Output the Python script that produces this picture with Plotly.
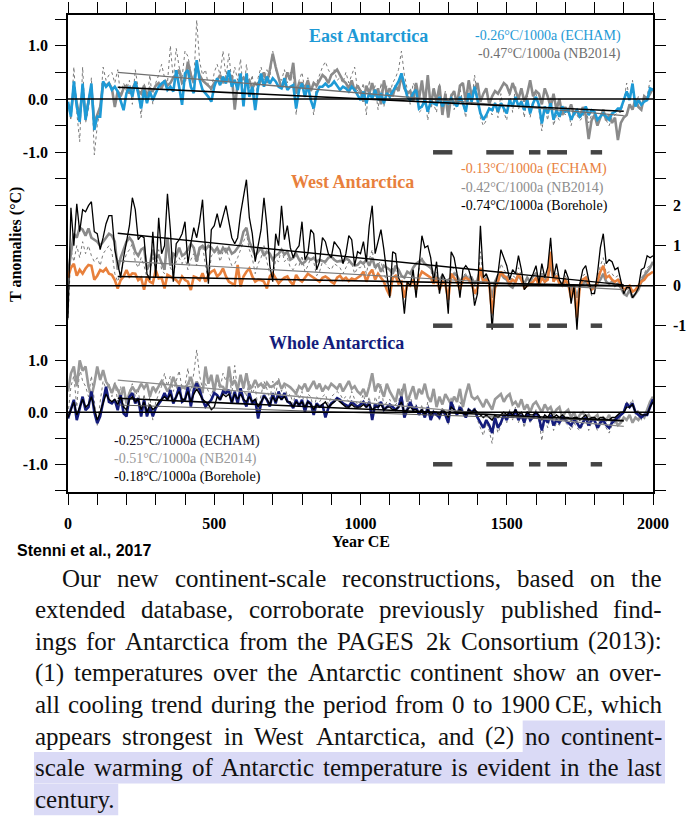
import plotly.graph_objects as go

# ---------------- data (10-year steps) ----------------
years = list(range(0, 2001, 10))

east_echam = [
    -0.05, -0.33, 0.33, -0.14, -0.43, 0.29, -0.39, -0.08, 0.29, -0.58,
    -0.33, -0.33, 0.33, 0.23, 0.29, 0.17, 0.23, 0.14, -0.05, -0.21,
    0.11, 0.23, 0.04, 0.33, 0.11, -0.18, 0.17, -0.08, 0.14, -0.02,
    0.11, 0.23, 0.29, 0.33, 0.17, 0.23, 0.14, 0.54, 0.23, -0.11,
    0.48, 0.54, 0.23, 0.11, 0.73, 0.36, 0.17, 0.11, 0.04, -0.05,
    0.23, 0.39, 0.26, 0.42, 0.29, 0.54, 0.23, 0.36, 0.17, 0.48,
    -0.14, 0.48, 0.04, 0.23, -0.21, 0.23, 0.48, 0.23, 0.42, 0.29,
    0.39, 0.33, 0.23, 0.20, 0.39, 0.17, 0.23, 0.26, -0.18, 0.17,
    0.29, 0.04, 0.26, -0.02, -0.18, 0.11, 0.23, 0.23, 0.29, 0.23,
    0.26, 0.33, 0.26, 0.17, 0.23, 0.20, 0.14, 0.23, 0.17, 0.07,
    -0.02, 0.14, -0.08, 0.11, 0.01, 0.17, -0.02, 0.11, -0.08, 0.11,
    0.04, 0.14, 0.23, 0.33, 0.48, 0.23, 0.04, -0.02, 0.11, 0.17,
    -0.18, -0.14, -0.02, -0.24, -0.05, -0.08, -0.11, 0.04, -0.14, -0.02,
    -0.08, 0.01, -0.08, -0.14, 0.04, -0.08, -0.24, 0.11, -0.05, 0.23,
    -0.02, -0.27, -0.39, -0.30, -0.18, -0.21, -0.08, -0.24, -0.08, -0.18,
    -0.27, -0.02, -0.14, 0.04, -0.14, -0.05, -0.21, -0.02, -0.27, -0.08,
    0.04, -0.11, -0.46, -0.14, -0.27, -0.08, -0.39, -0.21, -0.33, -0.14,
    -0.24, -0.21, -0.39, -0.27, -0.21, -0.33, -0.27, -0.14, -0.30, -0.21,
    -0.24, -0.39, -0.33, -0.27, -0.33, -0.39, -0.27, -0.24, -0.18, -0.18,
    -0.02, 0.14, -0.02, 0.29, -0.14, -0.02, -0.11, -0.05, -0.02, 0.20,
    0.17,
]

east_nb2014 = [
    -0.10, -0.25, 0.20, -0.10, -0.35, 0.20, -0.30, -0.05, 0.20, -0.45,
    -0.30, -0.15, 0.30, 0.25, 0.30, 0.20, -0.15, 0.15, 0.05, 0.20,
    0.25, 0.10, 0.20, 0.30, 0.15, 0.10, 0.25, 0.05, 0.20, 0.15,
    0.25, 0.30, 0.20, 0.35, 0.25, 0.30, 0.40, 0.45, 0.55, 0.30,
    0.35, 0.70, 0.45, 0.30, 0.60, 0.45, 0.35, 0.30, 0.25, 0.20,
    0.30, 0.35, 0.45, 0.30, 0.40, 0.35, 0.45, -0.20, 0.30, 0.35,
    0.40, 0.30, 0.35, 0.20, 0.30, 0.25, 0.35, 0.50, 0.30, 0.55,
    0.85, 0.60, 0.40, 0.20, 0.30, 0.50, 0.35, 0.68, 0.10, 0.30,
    0.30, 0.20, 0.35, 0.15, 0.30, 0.25, 0.35, 0.45, 0.40, 0.30,
    0.45, 0.50, 0.55, 0.45, 0.35, 0.30, 0.20, 0.35, 0.15, 0.25,
    0.15, -0.05, 0.25, 0.10, 0.30, 0.05, 0.20, -0.10, 0.35, 0.10,
    0.20, 0.05, 0.25, 0.15, 0.45, 0.20, 0.10, 0.15, -0.05, 0.30,
    0.00, 0.35, -0.10, 0.45, -0.15, 0.20, -0.05, 0.25, -0.30, 0.10,
    -0.35, 0.05, 0.15, -0.10, 0.25, 0.30, -0.05, 0.35, 0.05, 0.20,
    0.30, -0.05, 0.10, 0.20, -0.10, 0.05, 0.15, 0.10, 0.20, 0.30,
    0.25, 0.10, 0.30, 0.15, 0.00, 0.20, -0.05, 0.10, 0.35, 0.05,
    0.15, 0.10, -0.10, 0.20, 0.05, -0.15, 0.10, -0.20, 0.00, -0.30,
    -0.15, -0.25, -0.10, -0.30, -0.20, -0.35, -0.15, -0.30, -0.75, -0.40,
    -0.30, -0.50, -0.35, -0.20, -0.40, -0.30, -0.45, -0.35, -0.77, -0.45,
    -0.35, -0.30, -0.10, -0.20, 0.00, -0.15, -0.20, 0.05, 0.00, 0.10,
    0.20,
]

east_composite = [
    -0.10, -0.40, 0.60, -0.25, -0.80, 0.60, -0.45, -0.20, 0.40, -1.05,
    -0.50, -0.20, 0.60, 0.35, 0.45, 0.50, 0.30, 0.55, 0.05, 0.30,
    0.15, 0.35, -0.10, 0.55, 0.20, -0.35, 0.30, 0.00, 0.45, -0.10,
    0.30, 0.45, 0.65, 0.40, 0.30, 1.00, 0.35, 0.95, 0.60, 0.40,
    0.90, 0.80, 0.50, 0.30, 1.48, 0.70, 0.45, 0.55, 0.25, 0.15,
    0.50, 0.65, 0.45, 0.90, 0.40, 0.85, 0.30, 0.60, 0.35, 0.75,
    0.05, 0.65, 0.20, 0.45, -0.10, 0.40, 0.60, 0.35, 0.55, 0.40,
    0.90, 0.55, 0.40, 0.35, 0.55, 0.30, 0.50, 0.45, -0.30, 0.35,
    0.50, 0.15, 0.40, 0.05, -0.30, 0.30, 0.45, 0.60, 0.70, 0.55,
    0.45, 0.55, 0.35, 0.40, 0.30, 0.50, 0.30, 0.45, 0.60, 0.15,
    0.10, 0.30, -0.30, 0.35, 0.05, 0.25, -0.20, 0.30, -0.15, 0.25,
    0.10, 0.30, 0.40, 0.55, 0.90, 0.45, 0.15, -0.10, 0.30, 0.20,
    -0.25, -0.20, 0.05, -0.40, 0.00, -0.10, -0.25, 0.30, -0.20, 0.15,
    -0.15, 0.10, -0.20, -0.05, 0.20, -0.10, -0.35, 0.35, -0.10, 0.45,
    0.05, -0.35, -0.50, -0.40, -0.15, -0.30, -0.05, -0.35, 0.10, -0.25,
    -0.40, 0.15, -0.25, 0.25, -0.20, 0.00, -0.35, 0.10, -0.35, 0.00,
    0.10, -0.20, -0.60, -0.15, -0.40, 0.05, -0.50, -0.30, -0.40, -0.20,
    -0.30, -0.20, -0.50, -0.25, -0.30, -0.40, -0.35, -0.15, -0.45, -0.30,
    -0.30, -0.50, -0.35, -0.30, -0.40, -0.50, -0.35, -0.30, -0.25, -0.25,
    -0.05, 0.30, 0.00, 0.35, -0.15, 0.05, -0.10, 0.00, 0.05, 0.35,
    0.30,
]

west_borehole = [
    -0.80, 1.95, 1.00, 2.05, 1.35, 1.90, 1.85, 2.00, 2.10, 1.35,
    1.30, 0.90, 1.20, 1.55, 1.75, 1.75, 0.90, 0.50, 0.20, 0.70,
    1.10, 1.50, 2.20, 1.90, 1.15, 1.25, 1.20, 0.30, 0.15, 1.35,
    0.20, 1.70, 0.80, 1.00, 2.30, 1.40, 0.10, 1.05, 1.15, 1.30,
    1.60, 0.55, 1.05, 1.45, 1.20, 1.60, 2.15, 0.90, 0.05, 1.40,
    1.50, 1.80, 1.45, 1.75, 2.00, 1.60, 1.20, 1.05, 1.20, 1.80,
    2.20, 2.65, 1.70, 1.30, 0.60, 1.00, 1.40, 2.20, 1.50, 0.50,
    0.10, 1.30, 1.00, 2.00, 1.15, 1.50, 0.95, 0.70, 0.90, 1.00,
    1.60, 0.65, 0.80, 1.40, 1.30, 0.40, 0.60, 1.20, 1.10, 0.80,
    0.70, 1.10, 1.00, 0.90, 0.55, 0.80, 1.25, 1.15, 0.50, 0.85,
    0.80, 1.10, 0.60, 1.50, 2.00, 0.80, 1.10, 1.40, 0.90, 0.30,
    -0.30, 0.85, 0.80, 0.20, 0.05, -0.70, 0.10, 0.00, 0.40, -0.30,
    0.50, 1.25, 0.95, 1.00, 0.70, 0.10, 0.60, -0.20, 0.30, 0.15,
    -0.70, 0.85, 0.70, 0.30, -0.30, 0.40, 0.50, 0.40, 0.15, -0.50,
    -0.20, 1.50, 0.20, 0.30, 0.10, -1.10, 0.00, 0.30, 0.90, 0.70,
    0.50, 0.15, 0.40, 0.30, 0.75, 0.40, -0.10, 0.00, 0.15, 0.30,
    0.50, 0.05, 0.55, 0.20, 0.45, 1.20, 0.20, 0.55, 0.15, 0.00,
    0.40, 0.20, -0.45, 0.00, -1.10, 0.05, 0.40, 0.50, 0.15, -0.20,
    -0.20, 0.30, 0.95, 1.30, 0.55, 0.65, 0.60, 0.40, 0.45, 0.15,
    -0.20, -0.05, -0.05, -0.30, -0.20, -0.05, 0.40, 0.45, 0.75, 0.70,
    0.75,
]

west_nb2014 = [
    0.30, 0.80, 1.30, 1.20, 1.45, 1.40, 1.25, 1.43, 1.20, 1.15,
    1.10, 1.00, 1.10, 1.20, 1.30, 1.25, 1.10, 0.40, 0.70, 0.90,
    1.10, 1.20, 1.10, 0.85, 0.75, 0.90, 0.95, 0.40, 0.55, 0.90,
    0.70, 0.75, 0.55, 0.40, 1.20, 0.50, 0.80, 0.75, 0.95, 0.75,
    0.80, 0.90, 1.05, 0.95, 0.60, 0.95, 1.00, 0.90, 1.00, 0.95,
    0.85, 0.95, 0.80, 0.95, 0.85, 0.95, 0.80, 0.85, 0.95, 1.05,
    1.35, 1.45, 1.10, 0.90, 0.75, 0.85, 0.95, 0.75, 0.85, 0.80,
    0.65, 0.75, 0.80, 0.90, 0.78, 0.85, 0.65, 0.70, 0.80, 0.65,
    0.55, 0.60, 0.70, 0.65, 0.70, 0.60, 0.65, 0.62, 0.60, 0.70,
    0.73, 0.65, 0.60, 0.62, 0.60, 0.68, 0.64, 0.55, 0.50, 0.52,
    0.60, 0.55, 0.65, 0.50, 0.70, 0.45, 0.55, 0.35, 0.50, 0.45,
    0.40, 0.30, 0.50, 0.40, 0.25, 0.20, 0.35, 0.30, 0.45, 0.55,
    0.60, 0.65, 0.55, 0.50, 0.45, 0.30, 0.20, 0.15, 0.25, 0.10,
    0.15, 0.20, 0.30, 0.25, 0.10, 0.20, 0.25, 0.15, 0.20, 0.05,
    0.15, 0.40, 0.10, 0.20, 0.05, -0.30, 0.10, 0.25, 0.30, 0.20,
    0.15, 0.00, -0.05, 0.10, 0.25, 0.15, 0.05, 0.20, 0.10, 0.25,
    0.30, 0.15, 0.25, 0.10, 0.20, 0.55, 0.15, 0.20, 0.10, 0.05,
    0.10, 0.05, -0.10, 0.00, -0.30, 0.00, 0.05, 0.10, 0.00, -0.05,
    0.00, 0.05, 0.15, 0.30, 0.10, 0.05, 0.10, 0.00, 0.05, -0.05,
    -0.20, -0.25, -0.10, -0.30, -0.20, -0.10, 0.10, 0.25, 0.35, 0.45,
    0.60,
]

west_echam = [
    0.20, 0.45, 0.55, 0.25, 0.40, 0.30, 0.43, 0.52, 0.50, 0.15,
    0.25, 0.39, 0.35, 0.43, 0.30, 0.27, 0.14, -0.07, 0.14, 0.23,
    0.39, 0.23, 0.31, 0.30, 0.14, 0.20, -0.10, 0.23, 0.10, 0.06,
    0.39, 0.18, 0.20, -0.07, 0.27, 0.23, 0.20, 0.14, 0.06, 0.23,
    0.14, 0.10, -0.11, 0.23, 0.20, 0.14, 0.31, 0.10, 0.27, 0.35,
    0.39, 0.23, 0.30, 0.43, 0.23, 0.10, 0.06, 0.02, 0.52, -0.02,
    0.23, 0.35, 0.43, 0.23, 0.10, 0.15, 0.14, 0.10, -0.07, 0.23,
    0.31, 0.20, 0.06, 0.14, 0.20, 0.23, 0.10, 0.02, 0.27, 0.15,
    0.10, 0.20, 0.30, 0.25, 0.20, 0.14, 0.10, 0.20, 0.23, 0.18,
    0.10, 0.05, 0.20, 0.25, 0.15, 0.20, 0.12, 0.18, 0.15, 0.20,
    0.25, 0.35, 0.10, 0.30, 0.40, 0.15, 0.30, 0.20, 0.10, -0.10,
    -0.25, 0.20, 0.25, 0.05, 0.10, -0.30, 0.05, 0.00, 0.15, -0.10,
    0.20, 0.35, 0.30, 0.25, 0.20, 0.05, 0.20, -0.10, 0.10, 0.05,
    -0.35, 0.30, 0.20, 0.10, -0.10, 0.15, 0.20, 0.15, 0.05, -0.20,
    -0.05, 0.45, 0.10, 0.15, 0.05, -0.70, -0.05, 0.10, 0.35, 0.25,
    0.20, 0.05, 0.15, 0.10, 0.30, 0.15, -0.05, 0.00, 0.05, 0.10,
    0.20, 0.00, 0.20, 0.10, 0.15, 0.85, 0.10, 0.25, 0.05, 0.00,
    0.15, 0.05, -0.30, 0.00, -0.80, 0.00, 0.15, 0.20, 0.05, -0.10,
    -0.05, 0.10, 0.35, 0.50, 0.20, 0.25, 0.15, 0.10, 0.15, 0.05,
    -0.10, -0.05, 0.00, -0.15, -0.10, 0.00, 0.10, 0.15, 0.25, 0.30,
    0.35,
]

west_composite = [
    -0.85, 0.90, 0.60, 1.00, 0.70, 1.10, 0.80, 1.00, 0.75, 0.60,
    0.70, 0.50, 0.80, 0.90, 1.00, 0.85, 0.30, 0.10, 0.35, 0.60,
    0.80, 0.90, 1.05, 0.60, 0.45, 0.70, 0.50, 0.20, 0.30, 0.75,
    0.35, 0.90, 0.40, 0.30, 1.10, 0.45, 0.30, 0.60, 0.70, 0.55,
    0.70, 0.40, 0.65, 0.80, 0.50, 0.85, 1.00, 0.50, 0.10, 0.75,
    0.80, 0.90, 0.60, 0.85, 0.95, 0.70, 0.50, 0.55, 0.70, 0.90,
    1.10, 1.30, 0.90, 0.70, 0.30, 0.55, 0.70, 1.00, 0.60, 0.30,
    0.20, 0.65, 0.60, 0.95, 0.60, 0.70, 0.45, 0.40, 0.55, 0.50,
    0.75, 0.35, 0.50, 0.70, 0.60, 0.25, 0.35, 0.60, 0.55, 0.45,
    0.40, 0.55, 0.50, 0.45, 0.30, 0.45, 0.60, 0.55, 0.30, 0.45,
    0.45, 0.60, 0.30, 0.65, 0.90, 0.40, 0.55, 0.60, 0.35, 0.10,
    -0.20, 0.45, 0.40, 0.10, 0.05, -0.50, 0.10, 0.00, 0.30, -0.15,
    0.40, 0.70, 0.55, 0.50, 0.40, 0.10, 0.35, -0.15, 0.20, 0.10,
    -0.50, 0.50, 0.40, 0.20, -0.20, 0.25, 0.30, 0.25, 0.10, -0.35,
    -0.10, 0.85, 0.15, 0.20, 0.05, -0.90, 0.00, 0.20, 0.55, 0.40,
    0.30, 0.05, 0.25, 0.20, 0.45, 0.25, -0.10, 0.00, 0.10, 0.20,
    0.35, 0.05, 0.35, 0.15, 0.30, 0.75, 0.15, 0.35, 0.10, 0.00,
    0.25, 0.10, -0.35, 0.00, -0.95, 0.00, 0.25, 0.30, 0.10, -0.25,
    -0.15, 0.15, 0.50, 0.70, 0.30, 0.35, 0.30, 0.20, 0.25, 0.05,
    -0.25, -0.10, -0.05, -0.30, -0.20, -0.05, 0.20, 0.30, 0.45, 0.50,
    0.55,
]

whole_echam = [
    -0.12, 0.05, 0.24, -0.15, 0.10, 0.30, 0.04, 0.10, 0.40, 0.00,
    -0.21, -0.08, 0.20, 0.49, 0.20, 0.17, 0.24, 0.04, 0.33, -0.02,
    -0.08, 0.30, 0.37, 0.17, 0.27, -0.08, 0.24, -0.08, 0.11, -0.08,
    0.08, 0.17, 0.24, 0.37, 0.24, 0.43, 0.17, 0.30, 0.49, 0.20,
    0.24, 0.49, 0.11, 0.43, 0.56, 0.43, 0.24, 0.11, 0.17, 0.24,
    0.37, 0.33, 0.24, 0.40, 0.37, 0.43, 0.17, 0.40, 0.17, 0.46,
    0.24, 0.11, 0.37, 0.17, 0.24, -0.12, 0.17, 0.33, 0.24, 0.11,
    0.37, 0.17, 0.40, 0.24, 0.37, 0.21, 0.17, 0.08, 0.24, 0.11,
    0.24, 0.01, 0.21, 0.17, -0.05, 0.17, 0.11, 0.14, -0.10, 0.08,
    0.17, 0.21, 0.27, 0.24, 0.17, 0.14, 0.11, 0.20, 0.15, 0.10,
    0.15, 0.20, 0.10, 0.20, -0.15, 0.15, 0.10, 0.20, 0.05, 0.10,
    0.15, 0.10, 0.05, 0.10, 0.30, -0.10, 0.05, 0.20, 0.05, 0.10,
    -0.05, 0.05, -0.10, 0.10, -0.15, 0.00, -0.05, -0.10, 0.05, -0.05,
    -0.20, 0.20, 0.05, -0.05, 0.10, 0.00, -0.10, 0.05, 0.00, 0.05,
    -0.10, -0.20, -0.30, -0.15, -0.25, -0.40, -0.10, -0.30, -0.20, -0.05,
    -0.15, 0.00, -0.10, 0.05, -0.15, -0.05, -0.20, 0.00, -0.15, -0.10,
    0.00, -0.10, -0.35, -0.10, -0.20, -0.05, -0.25, -0.15, -0.20, -0.10,
    -0.15, -0.20, -0.25, -0.15, -0.20, -0.30, -0.20, -0.10, -0.25, -0.15,
    -0.15, -0.30, -0.20, -0.15, -0.25, -0.30, -0.20, -0.15, -0.10, -0.05,
    0.00, 0.17, 0.10, 0.17, 0.00, -0.05, -0.10, -0.05, -0.05, 0.10,
    0.25,
]

whole_borehole = [
    -0.10, 0.05, 0.20, -0.05, 0.10, 0.25, 0.10, 0.15, 0.30, 0.05,
    -0.15, 0.00, 0.20, 0.35, 0.25, 0.20, 0.25, 0.15, 0.30, 0.10,
    0.05, 0.25, 0.30, 0.20, 0.25, 0.05, 0.20, 0.00, 0.15, 0.05,
    0.10, 0.20, 0.25, 0.30, 0.25, 0.35, 0.20, 0.30, 0.40, 0.25,
    0.25, 0.40, 0.20, 0.35, 0.45, 0.35, 0.25, 0.20, 0.15, 0.05,
    0.10, 0.30, 0.25, 0.35, 0.30, 0.35, 0.20, 0.35, 0.25, 0.35,
    0.25, 0.20, 0.30, 0.20, 0.25, 0.10, 0.20, 0.30, 0.25, 0.15,
    0.30, 0.20, 0.30, 0.25, 0.30, 0.20, 0.20, 0.10, 0.20, 0.15,
    0.20, 0.10, 0.20, 0.15, 0.05, 0.15, 0.10, 0.15, 0.20, 0.10,
    0.15, 0.20, 0.25, 0.20, 0.15, 0.10, 0.10, 0.15, 0.10, 0.10,
    0.10, 0.15, 0.10, 0.15, 0.05, 0.10, 0.10, 0.15, 0.05, 0.10,
    0.10, 0.05, 0.05, 0.10, 0.20, 0.00, 0.05, 0.10, 0.05, 0.05,
    0.00, 0.05, -0.05, 0.05, -0.05, 0.00, 0.00, -0.05, 0.05, 0.00,
    -0.10, 0.10, 0.05, 0.00, 0.05, 0.00, -0.05, 0.05, 0.00, 0.05,
    0.00, -0.05, -0.10, -0.05, -0.10, -0.15, -0.05, -0.10, -0.05, 0.00,
    -0.05, 0.00, -0.05, 0.05, -0.05, 0.00, -0.10, 0.00, -0.05, -0.05,
    0.00, -0.05, -0.15, -0.05, -0.10, 0.00, -0.10, -0.05, -0.10, -0.05,
    -0.10, -0.10, -0.15, -0.10, -0.10, -0.15, -0.10, -0.05, -0.15, -0.10,
    -0.10, -0.15, -0.10, -0.10, -0.15, -0.15, -0.10, -0.10, -0.05, 0.00,
    0.00, 0.10, 0.10, 0.15, 0.00, 0.00, -0.05, -0.05, -0.05, 0.10,
    0.20,
]

whole_nb2014 = [
    0.40, 0.75, 0.88, 0.50, 1.00, 0.80, 0.88, 0.50, 0.30, 0.55,
    0.88, 0.62, 0.81, 0.59, 0.50, 0.37, 0.53, 0.43, 0.30, 0.49,
    0.17, 0.37, 0.49, 0.40, 0.43, 0.55, 0.46, 0.55, 0.30, 0.49,
    0.40, 0.50, 0.60, 0.52, 0.40, 0.49, 0.68, 0.52, 0.40, 0.49,
    0.46, 0.55, 0.68, 0.46, 0.59, 0.49, 0.37, 0.88, 0.55, 0.72,
    0.40, 0.72, 0.50, 0.49, 0.37, 0.88, 0.52, 0.62, 0.43, 0.72,
    0.46, 0.75, 0.45, 0.49, 0.62, 0.50, 0.55, 0.46, 0.57, 0.49,
    0.50, 0.55, 0.60, 0.45, 0.55, 0.52, 0.48, 0.42, 0.36, 0.50,
    0.45, 0.55, 0.40, 0.50, 0.60, 0.45, 0.55, 0.40, 0.50, 0.45,
    0.55, 0.50, 0.45, 0.55, 0.40, 0.50, 0.60, 0.45, 0.50, 0.40,
    0.35, 0.45, 0.30, 0.50, 0.75, 0.40, 0.55, 0.45, 0.30, 0.55,
    0.40, 0.30, 0.20, 0.45, 0.30, 0.55, 0.20, 0.35, 0.50, 0.25,
    0.45, 0.35, 0.55, 0.30, 0.20, 0.45, 0.10, 0.30, 0.15, 0.35,
    0.25, 0.15, 0.30, 0.20, 0.45, 0.10, 0.35, 0.55, 0.30, 0.25,
    0.30, 0.20, 0.10, 0.25, 0.15, 0.05, 0.25, 0.30, 0.35, 0.20,
    0.30, 0.35, 0.15, 0.20, 0.10, 0.25, 0.05, 0.15, 0.00, 0.15,
    0.20, 0.10, 0.00, 0.15, 0.05, 0.10, -0.05, 0.05, 0.10, -0.10,
    0.00, 0.05, -0.10, 0.00, -0.15, -0.05, 0.00, -0.10, -0.05, -0.15,
    -0.10, -0.05, -0.20, -0.10, -0.15, -0.05, -0.20, -0.15, -0.25, -0.20,
    -0.10, -0.15, -0.05, -0.20, -0.10, -0.15, -0.05, -0.10, 0.05, 0.20,
    0.30,
]

whole_composite = [
    -0.05, 0.50, 0.70, 0.10, 0.85, 0.60, 0.50, 0.30, 0.70, 0.20,
    -0.25, 0.20, 0.60, 0.45, 0.55, 0.30, 0.60, 0.20, 0.50, 0.15,
    0.00, 0.40, 0.55, 0.30, 0.45, -0.05, 0.35, 0.00, 0.30, -0.15,
    0.20, 0.35, 0.50, 0.75, 0.50, 0.70, 0.40, 0.60, 0.80, 0.45,
    0.50, 0.85, 0.40, 0.75, 1.20, 0.70, 0.45, 0.55, 0.40, 0.30,
    0.55, 0.60, 0.45, 0.75, 0.60, 0.80, 0.35, 0.90, 0.40, 0.70,
    0.45, 0.30, 0.60, 0.35, 0.50, 0.05, 0.35, 0.60, 0.45, 0.25,
    0.60, 0.35, 0.65, 0.40, 0.55, 0.30, 0.35, 0.15, 0.45, 0.25,
    0.40, 0.05, 0.35, 0.30, 0.05, 0.30, 0.20, 0.30, 0.35, 0.15,
    0.30, 0.35, 0.40, 0.35, 0.25, 0.30, 0.20, 0.40, 0.25, 0.15,
    0.20, 0.35, 0.10, 0.30, -0.10, 0.30, 0.15, 0.55, 0.10, 0.20,
    0.25, 0.10, 0.15, 0.20, 0.45, -0.05, 0.15, 0.30, 0.10, 0.15,
    -0.05, 0.15, -0.10, 0.20, -0.15, 0.05, 0.00, -0.15, 0.10, 0.00,
    -0.25, 0.30, 0.10, -0.05, 0.20, 0.05, -0.10, 0.10, 0.00, 0.10,
    -0.15, -0.30, -0.45, -0.20, -0.35, -0.60, -0.15, -0.40, -0.25, -0.05,
    -0.20, 0.05, -0.15, 0.10, -0.20, -0.05, -0.30, 0.05, -0.20, -0.10,
    0.05, -0.15, -0.55, -0.10, -0.30, -0.05, -0.35, -0.20, -0.25, -0.15,
    -0.20, -0.25, -0.35, -0.20, -0.30, -0.35, -0.25, -0.10, -0.35, -0.20,
    -0.20, -0.35, -0.25, -0.20, -0.30, -0.40, -0.25, -0.20, -0.15, -0.10,
    0.00, 0.20, 0.15, 0.25, -0.05, 0.05, -0.15, -0.10, -0.05, 0.15,
    0.30,
]

# linear trends (start/end years and values)
trend_years = [170, 1900]
east_trend_echam = [0.22, -0.23]
east_trend_nb2014 = [0.50, -0.31]
west_trend_echam = [0.23, 0.00]
west_trend_nb2014 = [0.62, -0.10]
west_trend_borehole = [1.31, 0.02]
whole_trend_echam = [0.27, -0.16]
whole_trend_nb2014 = [0.62, -0.27]
whole_trend_borehole = [0.14, -0.17]

# significance periods (bars drawn at -1)
sig_start = [1248, 1430, 1576, 1638, 1787]
sig_end = [1314, 1524, 1615, 1706, 1826]
sig_level = -1.0

# tick definitions
x_ticks = list(range(0, 2001, 100))
x_labels = [str(t) if t % 500 == 0 else "" for t in x_ticks]
east_ticks = [-1.5, -1.0, -0.5, 0.0, 0.5, 1.0, 1.5]
east_labels = ["", "-1.0", "", "0.0", "", "1.0", ""]
west_ticks = [-1, 0, 1, 2]
west_labels = ["-1", "0", "1", "2"]
whole_ticks = [-1.5, -1.0, -0.5, 0.0, 0.5, 1.0]
whole_labels = ["", "-1.0", "", "0.0", "", "1.0"]

east_legend = ["-0.26°C/1000a (ECHAM)", "-0.47°C/1000a (NB2014)"]
west_legend = ["-0.13°C/1000a (ECHAM)", "-0.42°C/1000a (NB2014)", "-0.74°C/1000a (Borehole)"]
whole_legend = ["-0.25°C/1000a (ECHAM)", "-0.51°C/1000a (NB2014)", "-0.18°C/1000a (Borehole)"]

para_lines = [
    "Our new continent-scale reconstructions, based on the",
    "extended database, corroborate previously published find-",
    "ings for Antarctica from the PAGES 2k Consortium (2013):",
    "(1) temperatures over the Antarctic continent show an over-",
    "all cooling trend during the period from 0 to 1900\u2009CE, which",
    "appears strongest in West Antarctica, and (2) no continent-",
    "scale warming of Antarctic temperature is evident in the last",
    "century.",
]

for s in [east_echam, east_nb2014, east_composite, west_borehole, west_nb2014,
          west_echam, west_composite, whole_echam, whole_borehole, whole_nb2014,
          whole_composite]:
    assert len(s) == len(years), len(s)

# ---------------- styling ----------------
BLUE = "#1e9ad6"
ORANGE = "#e8803c"
NAVY = "#141c7c"
GRAY = "#8a8a8a"
DOT = "#7a7a7a"
SERIF = "Liberation Serif"

W, H = 695, 819
ML, MR, MT, MB = 68, 42, 15, 327
PW, PH = W - ML - MR, H - MT - MB


def fx(px):
    return (px - ML) / PW


def fy(py):
    return (H - MB - py) / PH


fig = go.Figure()


def add_line(x, y, axis, color, width, dash="solid"):
    fig.add_trace(go.Scatter(x=x, y=y, yaxis=axis, mode="lines",
                             line=dict(color=color, width=width, dash=dash),
                             hoverinfo="skip", showlegend=False))


def add_sig(axis):
    xs, ys = [], []
    for s, e in zip(sig_start, sig_end):
        xs += [s, e, None]
        ys += [sig_level, sig_level, None]
    add_line(xs, ys, axis, "#444444", 4.5)


# East
add_line(years, east_composite, "y", DOT, 1, "dot")
add_line(years, east_nb2014, "y", GRAY, 2.6)
add_line(years, east_echam, "y", BLUE, 2.6)
add_line(trend_years, east_trend_nb2014, "y", "#6f6f6f", 1.3)
add_line(trend_years, east_trend_echam, "y", "black", 1.6)
add_sig("y")

# West
add_line(years, west_composite, "y2", DOT, 1, "dot")
add_line(years, west_nb2014, "y2", GRAY, 2.6)
add_line(years, west_echam, "y2", ORANGE, 2.6)
add_line(years, west_borehole, "y2", "black", 1.3)
add_line(trend_years, west_trend_nb2014, "y2", "#7a7a7a", 1.2)
add_line(trend_years, west_trend_borehole, "y2", "black", 1.4)
add_line(trend_years, west_trend_echam, "y2", "black", 1.6)
add_sig("y2")

# Whole
add_line(years, whole_composite, "y3", DOT, 1, "dot")
add_line(years, whole_nb2014, "y3", "#999999", 2.6)
add_line(years, whole_echam, "y3", NAVY, 2.6)
add_line(years, whole_borehole, "y3", "black", 1.4)
add_line(trend_years, whole_trend_nb2014, "y3", "#8a8a8a", 1.3)
add_line(trend_years, whole_trend_borehole, "y3", "#555555", 1.0)
add_line(trend_years, whole_trend_echam, "y3", "black", 1.6)
add_sig("y3")

tickfont = dict(family=SERIF, size=16, color="black", weight="bold")
common_y = dict(showline=True, linecolor="black", linewidth=1.6, ticks="outside",
                ticklen=11, tickwidth=1.4, tickcolor="black", mirror="ticks",
                showgrid=False, zeroline=False, tickfont=tickfont,
                ticklabelstandoff=4, fixedrange=True, automargin=False)

fig.update_layout(
    width=W, height=H,
    margin=dict(l=ML, r=MR, t=MT, b=MB, pad=0, autoexpand=False),
    paper_bgcolor="white", plot_bgcolor="white",
    showlegend=False,
    font=dict(family=SERIF, color="black"),
    xaxis=dict(range=[0, 2000], tickvals=x_ticks, ticktext=x_labels,
               showline=True, linecolor="black", linewidth=1.6, ticks="outside",
               ticklen=11, tickwidth=1.4, tickcolor="black", mirror="ticks",
               showgrid=False, zeroline=False, tickfont=tickfont,
               ticklabelstandoff=5, automargin=False, fixedrange=True),
    yaxis=dict(range=[-7.373, 1.576], tickvals=east_ticks, ticktext=east_labels,
               side="left", **common_y),
    yaxis2=dict(range=[-5.158, 6.768], tickvals=west_ticks, ticktext=west_labels,
                side="right", overlaying="y", **common_y),
    yaxis3=dict(range=[-1.533, 7.64], tickvals=whole_ticks, ticktext=whole_labels,
                side="left", overlaying="y", **common_y),
)

# zero lines
for ax in ["y", "y2", "y3"]:
    fig.add_shape(type="line", xref="paper", yref=ax, x0=0, x1=1.0, y0=0, y1=0,
                  line=dict(color="black", width=1.6), layer="above")

ann = []


def text(px, py, s, size, color="black", anchor="center", bold=False,
         family=SERIF, angle=0):
    ann.append(dict(x=fx(px), y=fy(py), xref="paper", yref="paper", text=s,
                    showarrow=False, xanchor=anchor, yanchor="middle",
                    textangle=angle, borderpad=0, borderwidth=0,
                    font=dict(family=family, size=size, color=color,
                              weight="bold" if bold else "normal")))


# panel titles
text(368, 36, "East Antarctica", 18, BLUE, bold=True)
text(352, 182, "West Antarctica", 18, ORANGE, bold=True)
text(336, 343, "Whole Antarctica", 18, NAVY, bold=True)

# trend labels
text(621, 35.5, east_legend[0], 14, BLUE, anchor="right")
text(621, 53.5, east_legend[1], 14, "#6e6e6e", anchor="right")
text(461, 168.5, west_legend[0], 14, ORANGE, anchor="left")
text(461, 187.5, west_legend[1], 14, "#8c8c8c", anchor="left")
text(461, 206.5, west_legend[2], 14, "black", anchor="left")
text(114, 440.5, whole_legend[0], 14, "#15152e", anchor="left")
text(114, 459, whole_legend[1], 14, "#9a9a9a", anchor="left")
text(114, 477, whole_legend[2], 14, "black", anchor="left")

# axis titles
text(16, 245, "T anomalies (°C)", 16, bold=True, angle=-90)
text(361, 541, "Year CE", 16, bold=True)
text(17, 550, "Stenni et al., 2017", 16, bold=True, anchor="left",
     family="Liberation Sans")

# paragraph, justified word by word using Times metrics
TW = {' ': 250, '!': 333, '(': 333, ')': 333, ',': 250, '-': 333, '.': 250,
      '/': 278, ':': 278, ';': 278, '\u2009': 167,
      'A': 722, 'B': 667, 'C': 667, 'D': 722, 'E': 611, 'F': 556, 'G': 722,
      'H': 722, 'I': 333, 'J': 389, 'K': 722, 'L': 611, 'M': 889, 'N': 722,
      'O': 722, 'P': 556, 'Q': 722, 'R': 667, 'S': 556, 'T': 611, 'U': 722,
      'V': 722, 'W': 944, 'X': 722, 'Y': 722, 'Z': 611,
      'a': 444, 'b': 500, 'c': 444, 'd': 500, 'e': 444, 'f': 333, 'g': 500,
      'h': 500, 'i': 278, 'j': 278, 'k': 500, 'l': 278, 'm': 778, 'n': 500,
      'o': 500, 'p': 500, 'q': 500, 'r': 333, 's': 389, 't': 278, 'u': 500,
      'v': 500, 'w': 722, 'x': 500, 'y': 500, 'z': 444}
PSIZE = 25


def tw(s):
    return sum(TW.get(c, 500) for c in s) * PSIZE / 1000.0


line_y0, line_step = 578, 31.6
left_x, right_x, indent_x = 35, 662, 62
HL = "#dadaf6"
word_boxes = []
for i, line in enumerate(para_lines):
    words = line.split(" ")
    lx = indent_x if i == 0 else left_x
    cy = line_y0 + i * line_step
    widths = [tw(w) for w in words]
    if i == len(para_lines) - 1:
        gap = tw(" ")
    else:
        gap = (right_x - lx - sum(widths)) / (len(words) - 1)
    pos = lx
    for w, wd in zip(words, widths):
        text(pos, cy, w, PSIZE, "#111111", anchor="left")
        word_boxes.append((i, w, pos, pos + wd, cy))
        pos += wd + gap

# highlight boxes
hl_rows = []
for i in range(len(para_lines)):
    boxes = [b for b in word_boxes if b[0] == i]
    if i == 5:
        start = [b for b in boxes if b[1] == "no"][0][2]
        hl_rows.append((start - 2, right_x + 3, boxes[0][4]))
    elif i == 6:
        hl_rows.append((left_x - 1, right_x + 3, boxes[0][4]))
    elif i == 7:
        hl_rows.append((left_x - 1, boxes[-1][3] + 2, boxes[0][4]))
for x0, x1, cy in hl_rows:
    fig.add_shape(type="rect", xref="paper", yref="paper",
                  x0=fx(x0), x1=fx(x1), y0=fy(cy + 16), y1=fy(cy - 15.5),
                  fillcolor=HL, line=dict(width=0), layer="below")

fig.update_layout(annotations=ann)
fig.write_html("out.html", config={"displayModeBar": False},
               post_script="document.body.style.margin='0';document.body.style.padding='0';")
